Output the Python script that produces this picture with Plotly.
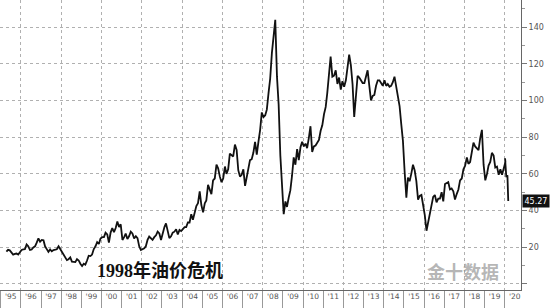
import pandas as pd
import plotly.graph_objects as go

# Brent crude, monthly readings (USD/bbl), Mar 1995 - Dec 2019
monthly_start = "1995-03-15"
monthly_values = [
    # 1995 (Mar-Dec)
    17.6, 18.6, 18.3, 17.2, 16.0, 16.4, 16.6, 16.0, 17.2, 18.5,
    # 1996
    18.8, 18.9, 21.5, 20.5, 18.5, 18.8, 19.9, 20.5, 22.5, 24.8, 23.0, 24.0,
    # 1997
    23.8, 20.5, 19.0, 17.5, 18.8, 17.8, 18.5, 18.8, 18.9, 20.5, 19.0, 17.3,
    # 1998
    15.5, 13.8, 13.0, 13.5, 14.5, 12.2, 12.0, 11.9, 13.5, 12.8, 11.0, 9.8,
    # 1999
    11.0, 10.5, 12.8, 15.4, 15.2, 16.0, 19.0, 20.5, 22.8, 21.8, 24.8, 25.5,
    # 2000
    25.5, 28.0, 27.0, 22.5, 28.0, 30.5, 28.3, 30.5, 34.0, 31.0, 32.5, 24.0,
    # 2001
    25.5, 27.5, 24.5, 26.0, 28.5, 27.5, 24.8, 26.0, 25.0, 20.5, 18.5, 18.8,
    # 2002
    19.5, 20.5, 24.0, 25.8, 25.0, 24.0, 25.5, 26.5, 28.5, 27.5, 24.0, 28.5,
    # 2003
    31.0, 33.0, 28.5, 25.0, 26.0, 28.0, 28.5, 29.8, 27.0, 29.5, 28.8, 30.0,
    # 2004
    31.0, 31.0, 33.5, 33.5, 38.0, 35.0, 38.5, 42.5, 44.0, 50.5, 43.0, 39.0,
    # 2005
    44.0, 45.5, 54.0, 52.0, 49.0, 56.5, 57.5, 65.0, 63.0, 58.5, 55.5, 57.5,
    # 2006
    64.0, 60.0, 62.5, 71.0, 70.0, 69.5, 76.0, 73.0, 62.0, 58.5, 59.5, 62.5,
    # 2007
    53.5, 58.0, 62.0, 67.5, 68.0, 71.5, 77.5, 70.5, 77.5, 84.0, 93.5, 91.0,
    # 2008
    92.0, 95.0, 104.0, 112.0, 126.0, 136.0, 144.0, 113.0, 98.0, 70.0, 51.0, 38.0,
    # 2009
    45.0, 42.0, 47.0, 51.0, 59.0, 69.0, 65.0, 73.5, 67.5, 74.5, 77.5, 75.0,
    # 2010
    76.5, 74.0, 79.5, 86.0, 72.0, 75.0, 75.5, 77.0, 78.5, 83.5, 86.5, 92.5,
    # 2011
    96.5, 104.0, 115.0, 124.0, 113.0, 113.5, 116.5, 109.0, 112.5, 106.0, 110.5, 107.5,
    # 2012
    111.0, 119.5, 125.0, 119.5, 109.0, 91.0, 103.0, 113.5, 112.5, 111.0, 109.5, 109.5,
    # 2013
    112.5, 116.5, 108.0, 100.0, 102.5, 103.0, 108.0, 111.0, 111.0, 109.0, 108.0, 111.0,
    # 2014
    108.0, 109.0, 107.5, 108.0, 110.0, 113.0, 107.0, 102.0, 97.0, 87.0, 78.0, 61.0,
    # 2015
    47.0, 58.0, 56.0, 60.0, 65.0, 62.0, 56.0, 46.0, 48.0, 48.5, 44.0, 37.5,
    # 2016
    29.0, 33.0, 39.0, 42.5, 47.5, 48.5, 44.5, 46.5, 46.5, 50.0, 45.0, 54.5,
    # 2017
    55.0, 55.5, 51.5, 52.0, 50.5, 46.0, 49.0, 51.5, 56.5, 57.5, 62.5, 64.5,
    # 2018
    69.0, 65.5, 66.5, 72.5, 77.0, 75.0, 74.0, 73.0, 79.5, 84.0, 65.0, 56.5,
    # 2019
    60.0, 64.5, 66.5, 71.5, 70.0, 63.5, 64.0, 59.5, 62.5, 59.5, 63.0, 66.5,
]

# 2020 readings up to the last print
tail_dates = ["2020-01-08", "2020-01-31", "2020-02-20", "2020-02-28", "2020-03-06"]
tail_values = [68.5, 58.2, 59.3, 50.5, 45.27]

last_price = 45.27
annotation_text = "<b>1998年油价危机</b>"
watermark_text = "<b>金十数据</b>"
y_tickvals = [0, 20, 40, 60, 80, 100, 120, 140]
y_ticktext = ["", "20", "40", "60", "80", "100", "120", "140"]

dates = list(pd.date_range(monthly_start, periods=len(monthly_values), freq="MS") + pd.Timedelta(days=14))
dates = [d.strftime("%Y-%m-%d") for d in dates] + tail_dates
values = monthly_values + tail_values

x_range = ["1994-12-20", "2020-10-23"]

fig = go.Figure()
fig.add_trace(go.Scatter(x=dates, y=values, mode="lines",
                         line=dict(color="#111111", width=1.8),
                         hoverinfo="skip", showlegend=False))
# invisible trace for label axis
fig.add_trace(go.Scatter(x=[dates[0]], y=[values[0]], xaxis="x2", mode="markers",
                         marker=dict(opacity=0), showlegend=False, hoverinfo="skip"))

grid = dict(gridcolor="#b0b0b0", griddash="dot", gridwidth=1)

fig.update_layout(
    width=550, height=308,
    margin=dict(l=0, r=29, t=0, b=18),
    paper_bgcolor="white", plot_bgcolor="white",
    xaxis=dict(type="date", range=x_range, dtick="M24", tick0="1996-01-01",
               showgrid=True, **grid,
               ticks="outside", ticklen=18, tickcolor="#999", tickwidth=1,
               showticklabels=False, showline=True, linecolor="#666", linewidth=1,
               minor=dict(dtick="M12", tick0="1995-01-01", ticks="outside", ticklen=18,
                          tickcolor="#999", tickwidth=1, showgrid=False),
               zeroline=False),
    xaxis2=dict(type="date", range=x_range, overlaying="x", matches="x", side="bottom",
                dtick="M12", tick0="1995-01-01", tickformat="'%y", ticklabelmode="period",
                showgrid=False, ticks="", showline=False,
                tickfont=dict(family="DejaVu Sans", size=7.5, color="#555")),
    yaxis=dict(side="right", range=[-3.3, 154.8], tickvals=y_tickvals, ticktext=y_ticktext,
               showgrid=True, **grid, zeroline=False,
               ticks="outside", ticklen=5, tickcolor="#777",
               minor=dict(dtick=10, tick0=0, ticks="outside", ticklen=3, tickcolor="#999"),
               showline=True, linecolor="#666", linewidth=1,
               tickfont=dict(family="DejaVu Sans", size=8, color="#555")),
)

fig.add_annotation(x=1, xref="paper", y=last_price, yref="y", xanchor="left", yanchor="middle",
                   xshift=1, text=str(last_price), showarrow=False,
                   bgcolor="#111", font=dict(color="white", size=8, family="DejaVu Sans"),
                   borderpad=1.5)
fig.add_annotation(x="2002-12-01", y=7.6, xref="x", yref="y", text=annotation_text,
                   showarrow=False, font=dict(family="Liberation Serif, Noto Sans CJK SC",
                                              size=18, color="#111"))
fig.add_annotation(x=501/521, y=(290-286)/290, xref="paper", yref="paper", text=watermark_text,
                   showarrow=False, font=dict(family="Noto Sans CJK SC", size=18,
                                              color="rgba(150,150,150,0.7)"))

fig.write_html("out.html")
